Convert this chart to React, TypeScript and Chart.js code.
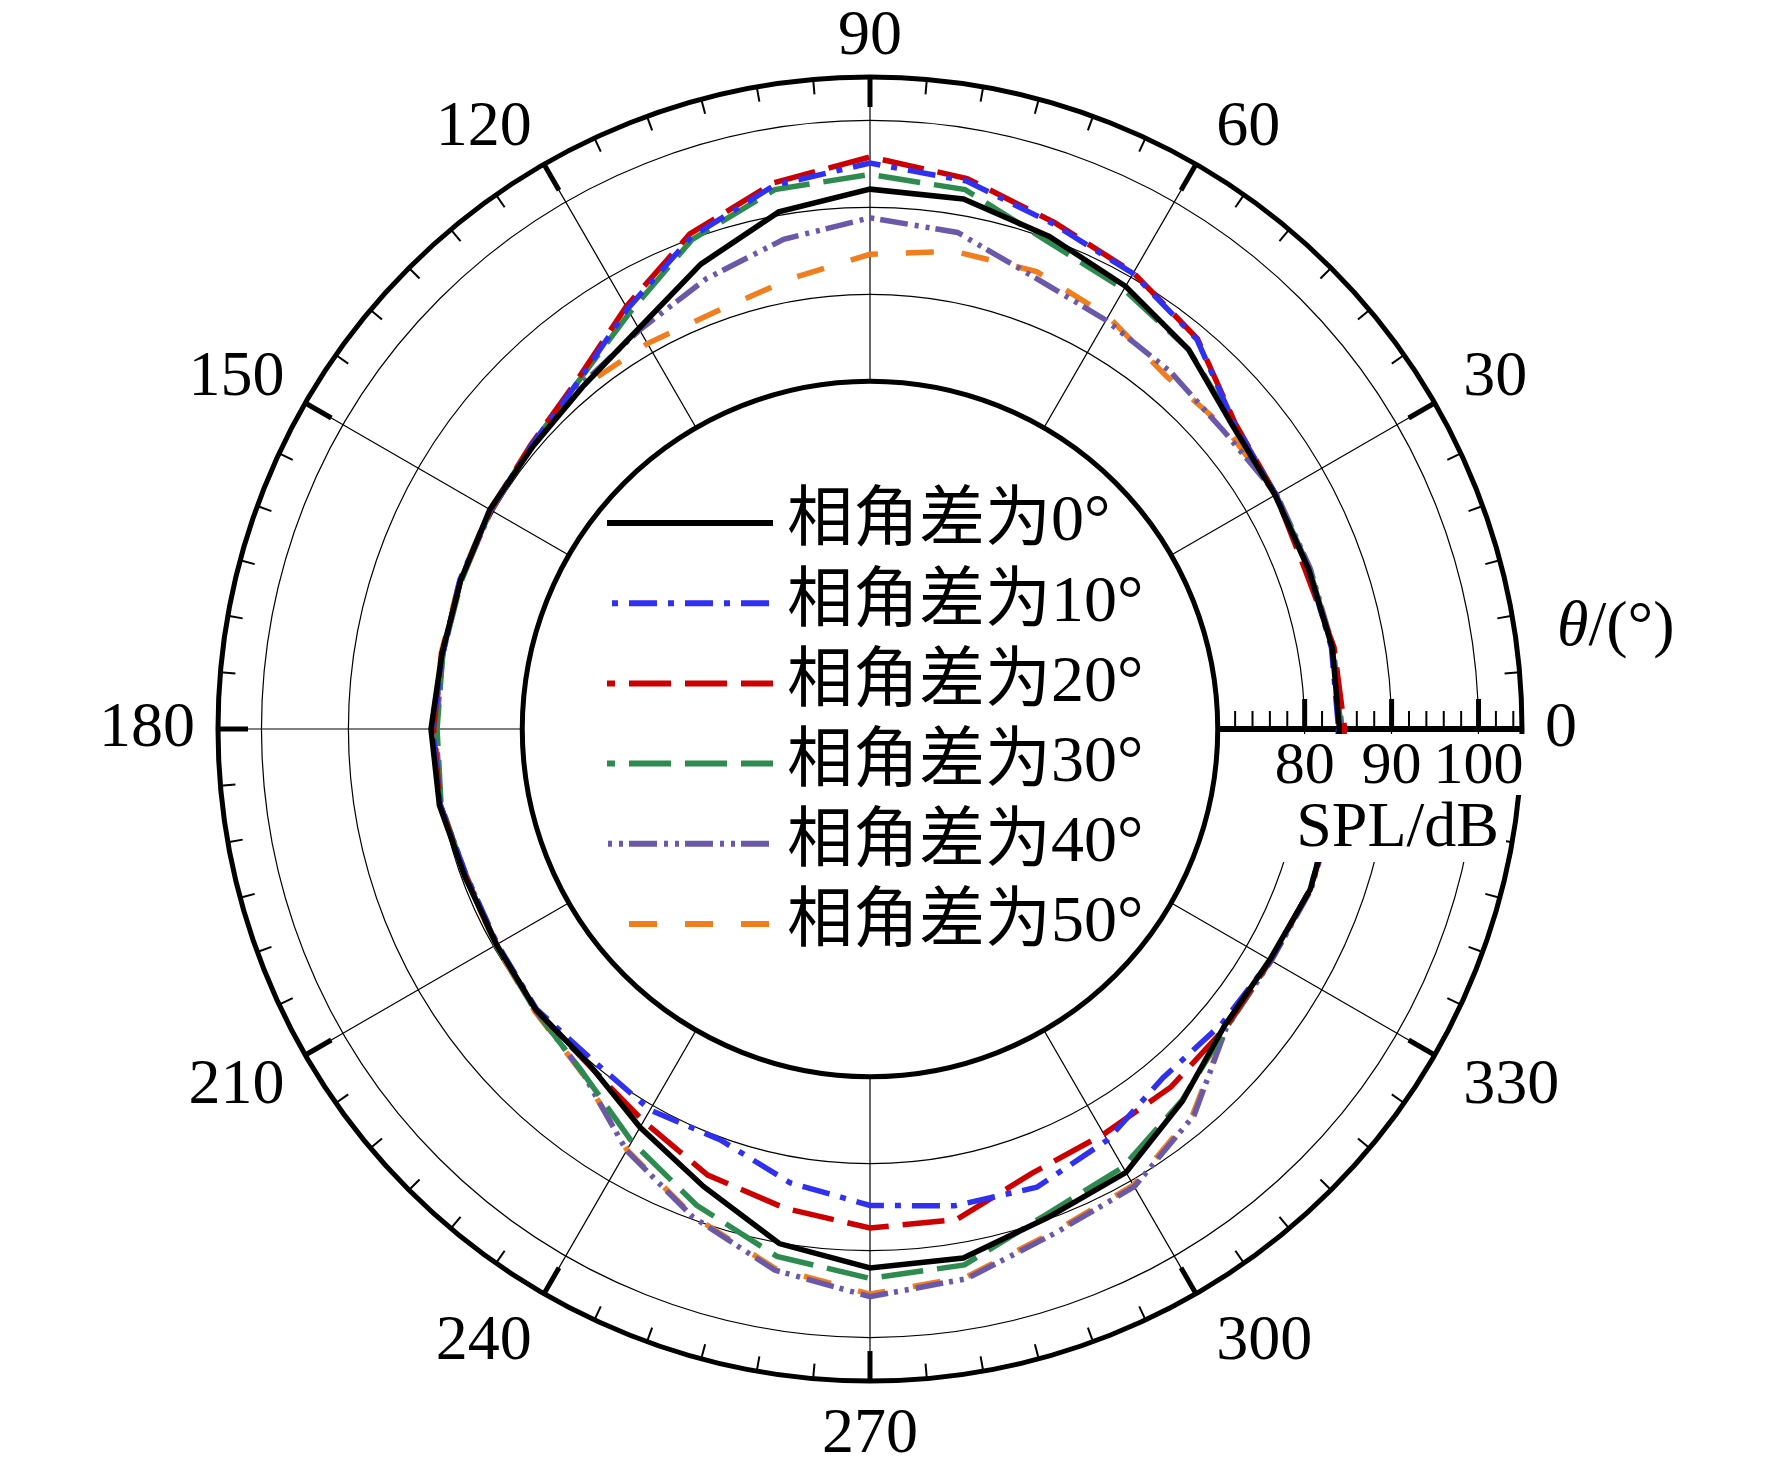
import React, { useEffect, useRef } from 'react';
import { Chart, registerables } from 'chart.js';

Chart.register(...registerables);

// ---------------- data ----------------
const ANGLES = [0, 10, 20, 30, 40, 50, 60, 70, 80, 90, 100, 110, 120, 130, 140, 150, 160, 170,
  180, 190, 200, 210, 220, 230, 240, 250, 260, 270, 280, 290, 300, 310, 320, 330, 340, 350];

const SPL_0 = [84.0, 84.0, 83.7, 83.8, 84.4, 87.0, 88.8, 90.3, 91.9, 92.1, 90.4, 86.9, 83.2, 81.4, 80.6, 80.5, 80.1, 80.0,
  80.5, 80.3, 79.6, 79.6, 80.2, 80.3, 82.9, 86.0, 90.1, 92.0, 91.8, 89.8, 88.9, 85.9, 83.2, 83.1, 83.9, 84.0];
const SPL_10 = [83.9, 83.9, 83.7, 83.9, 84.7, 88.5, 90.5, 91.8, 94.0, 95.1, 93.5, 90.2, 85.8, 82.2, 80.8, 80.4, 80.2, 79.9,
  80.3, 80.2, 79.4, 79.5, 80.1, 79.7, 80.6, 80.3, 83.0, 84.8, 85.7, 86.1, 84.6, 82.4, 82.8, 83.2, 83.9, 83.9];
const SPL_20 = [84.6, 84.2, 83.3, 83.9, 84.8, 88.6, 90.6, 92.0, 94.3, 95.8, 93.8, 90.6, 86.1, 82.4, 80.9, 80.4, 80.1, 80.0,
  80.2, 80.2, 79.5, 79.6, 80.2, 80.4, 82.1, 84.6, 86.0, 87.4, 87.3, 84.4, 83.8, 83.8, 83.4, 83.2, 83.9, 84.2];
const SPL_30 = [84.2, 84.0, 83.8, 83.9, 84.6, 87.0, 88.4, 89.7, 93.0, 93.8, 93.0, 89.9, 85.3, 82.2, 80.8, 80.4, 80.0, 79.9,
  79.8, 80.1, 79.5, 79.7, 80.3, 81.5, 84.8, 88.3, 91.6, 93.2, 92.6, 89.4, 88.2, 85.8, 83.5, 83.2, 83.9, 84.0];
const SPL_40 = [84.3, 84.1, 83.9, 84.0, 83.2, 83.7, 84.3, 85.3, 88.0, 88.8, 87.2, 85.1, 83.0, 81.7, 80.8, 80.3, 80.1, 79.9,
  79.9, 80.2, 79.4, 79.6, 80.3, 81.5, 86.0, 89.7, 93.2, 95.3, 94.2, 91.8, 90.8, 88.0, 83.5, 83.3, 84.0, 84.1];
const SPL_50 = [84.0, 84.0, 83.8, 83.9, 83.6, 83.0, 84.8, 86.0, 85.8, 84.6, 82.6, 81.2, 81.2, 81.4, 80.8, 80.5, 80.2, 80.1,
  80.0, 80.3, 79.6, 79.7, 80.4, 81.6, 85.9, 89.6, 93.0, 95.0, 94.0, 91.6, 90.6, 87.8, 83.5, 83.3, 83.9, 84.0];

const SERIES_LABELS = ['相角差为0°', '相角差为10°', '相角差为20°', '相角差为30°', '相角差为40°', '相角差为50°'];
const SERIES_DATA = [SPL_0, SPL_10, SPL_20, SPL_30, SPL_40, SPL_50];

const R_MIN = 30;
const R_MAX = 105;
const R_INNER = 70;
const GRID_VALUES = [80, 90, 100];
const AXIS_MAJOR = [80, 90, 100];
const AXIS_MINOR = [72, 74, 76, 78, 82, 84, 86, 88, 92, 94, 96, 98, 102, 104];
const ANGLE_LABELS = [0, 30, 60, 90, 120, 150, 180, 210, 240, 270, 300, 330];
const STEP = 10;

// ---------------- styles ----------------
const W = 1772;
const H = 1473;
const COLORS = ['#000000', '#3030f0', '#cc0000', '#2e8b4f', '#6a58a8', '#f07d1e'];
const DASHES: number[][] = [[], [28, 11, 6, 11], [42, 14], [42, 14], [28, 7, 4, 7, 4, 6], [28, 28]];
const SERIF = '"Liberation Serif", "Times New Roman", "Noto Sans CJK SC", serif';

const decorPlugin = {
  id: 'decor',
  beforeDatasetsDraw(chart: any) {
    const s = chart.scales.r;
    const ctx = chart.ctx;
    const cx = s.xCenter;
    const cy = s.yCenter;
    const rIn = s.getDistanceFromCenterForValue(R_INNER);
    const rOut = s.getDistanceFromCenterForValue(R_MAX);
    ctx.save();
    // hole
    ctx.beginPath();
    ctx.arc(cx, cy, rIn, 0, Math.PI * 2);
    ctx.fillStyle = '#ffffff';
    ctx.fill();
    ctx.lineWidth = 5;
    ctx.strokeStyle = '#000';
    ctx.stroke();
    // angular ticks every 5 degrees
    for (let a = 5; a < 360; a += 5) {
      const major = a % 30 === 0;
      const idx = ((360 - a) % 360) / STEP;
      const p1 = s.getPointPosition(idx, rOut);
      const p2 = s.getPointPosition(idx, rOut - (major ? 30 : 15));
      ctx.beginPath();
      ctx.moveTo(p1.x, p1.y);
      ctx.lineTo(p2.x, p2.y);
      ctx.lineWidth = major ? 5 : 2;
      ctx.stroke();
    }
    // radial axis at 0 deg
    const a0 = s.getPointPosition(0, rIn);
    const a1 = s.getPointPosition(0, rOut);
    ctx.beginPath();
    ctx.moveTo(a0.x, a0.y);
    ctx.lineTo(a1.x, a1.y);
    ctx.lineWidth = 6;
    ctx.stroke();
    for (const v of AXIS_MINOR) {
      const x = cx + s.getDistanceFromCenterForValue(v);
      ctx.beginPath();
      ctx.moveTo(x, cy);
      ctx.lineTo(x, cy - 18);
      ctx.lineWidth = 2;
      ctx.stroke();
    }
    for (const v of AXIS_MAJOR) {
      const x = cx + s.getDistanceFromCenterForValue(v);
      ctx.beginPath();
      ctx.moveTo(x, cy);
      ctx.lineTo(x, cy - 30);
      ctx.lineWidth = 5;
      ctx.stroke();
    }
    ctx.restore();
  },
  afterDatasetsDraw(chart: any) {
    const s = chart.scales.r;
    const ctx = chart.ctx;
    const cx = s.xCenter;
    const cy = s.yCenter;
    const rIn = s.getDistanceFromCenterForValue(R_INNER);
    const rOut = s.getDistanceFromCenterForValue(R_MAX);
    ctx.save();
    // white boxes behind axis labels
    ctx.fillStyle = '#ffffff';
    ctx.fillRect(cx + rIn + 20, cy + 5, rOut - rIn - 10, 61);
    ctx.fillRect(cx + rIn + 20, cy + 66, rOut - rIn - 36, 67);
    ctx.fillStyle = '#000';
    // axis numbers
    ctx.font = `60px ${SERIF}`;
    ctx.textAlign = 'center';
    ctx.textBaseline = 'middle';
    for (const v of AXIS_MAJOR) {
      const x = cx + s.getDistanceFromCenterForValue(v);
      ctx.fillText(String(v), x, cy + 38);
    }
    // SPL/dB
    ctx.font = `64px ${SERIF}`;
    ctx.textBaseline = 'alphabetic';
    ctx.fillText('SPL/dB', cx + s.getDistanceFromCenterForValue(90) + 6, cy + 117);
    // theta label
    ctx.textAlign = 'left';
    const tx = cx + rOut + 35;
    const ty = cy - 84;
    ctx.font = `italic 64px ${SERIF}`;
    ctx.fillText('θ', tx, ty);
    const tw = ctx.measureText('θ').width;
    ctx.font = `64px ${SERIF}`;
    ctx.fillText('/(°)', tx + tw, ty);
    // angle labels
    ctx.font = `64px ${SERIF}`;
    ctx.textAlign = 'center';
    ctx.textBaseline = 'middle';
    const gap = 23;
    const h = 44;
    for (const a of ANGLE_LABELS) {
      const idx = ((360 - a) % 360) / STEP;
      const p = s.getPointPosition(idx, rOut + gap);
      const ux = (p.x - cx) / (rOut + gap);
      const uy = (p.y - cy) / (rOut + gap);
      const txt = String(a);
      const w = ctx.measureText(txt).width;
      let x = p.x;
      let y = p.y;
      const s2 = Math.abs(2 * ux * uy);
      if (Math.abs(ux) > 0.01) x += Math.sign(ux) * (w / 2) + (ux > 0 ? 10 : -1) * s2;
      if (Math.abs(uy) > 0.01) y += Math.sign(uy) * (h / 2) * Math.sqrt(Math.abs(uy)) + (uy > 0 ? 9 * uy : -5 * uy);
      ctx.fillText(txt, x, y);
    }
    // legend
    const lx = cx - 263;
    const llen = 166;
    const ly0 = cy - 206;
    const rowH = 80.2;
    chart.data.datasets.forEach((ds: any, i: number) => {
      const y = ly0 + i * rowH;
      ctx.beginPath();
      ctx.setLineDash(ds.borderDash || []);
      ctx.lineDashOffset = 34;
      ctx.strokeStyle = ds.borderColor;
      ctx.lineWidth = 6;
      ctx.moveTo(lx, y);
      ctx.lineTo(lx + llen, y);
      ctx.stroke();
      ctx.setLineDash([]);
      ctx.fillStyle = '#000';
      ctx.font = `66px ${SERIF}`;
      ctx.textAlign = 'left';
      ctx.textBaseline = 'middle';
      ctx.fillText(ds.label, lx + llen + 14, y);
    });
    ctx.restore();
  },
};

export default function App() {
  const ref = useRef<HTMLCanvasElement>(null);
  useEffect(() => {
    document.body.style.margin = '0';
    const canvas = ref.current;
    if (!canvas) return;
    const n = ANGLES.length;
    const order = ANGLES.map((_, k) => (n - k) % n);
    const labels = order.map((i) => String(ANGLES[i]));
    const datasets = SERIES_DATA.map((arr, si) => ({
      label: SERIES_LABELS[si],
      data: order.map((i) => arr[i]),
      borderColor: COLORS[si],
      backgroundColor: 'transparent',
      borderDash: DASHES[si],
      borderWidth: 5.5,
      pointRadius: 0,
      pointHoverRadius: 0,
      fill: false,
      tension: 0,
    }));
    const chart = new Chart(canvas, {
      type: 'radar',
      data: { labels, datasets },
      options: {
        animation: false,
        responsive: false,
        devicePixelRatio: 1,
        layout: { padding: { left: 218, top: 77, right: 250, bottom: 92 } },
        plugins: { legend: { display: false }, tooltip: { enabled: false } },
        scales: {
          r: {
            min: R_MIN,
            max: R_MAX,
            startAngle: 90,
            afterBuildTicks: (scale: any) => {
              scale.ticks = [R_MIN, ...GRID_VALUES, R_MAX].map((v) => ({ value: v }));
            },
            ticks: { display: false },
            pointLabels: { display: false },
            grid: {
              circular: true,
              color: '#000',
              lineWidth: (c: any) => (c.tick && c.tick.value === R_MAX ? 5 : 1.2),
            },
            angleLines: {
              display: true,
              color: '#000',
              lineWidth: (c: any) => {
                const a = Number(labels[c.index]);
                return a % 30 === 0 && a !== 0 ? 1.2 : 0;
              },
            },
          },
        },
      } as any,
      plugins: [decorPlugin],
    });
    return () => chart.destroy();
  }, []);
  return (
    <div style={{ position: 'absolute', left: 0, top: 0, width: W, height: H, background: '#fff' }}>
      <canvas ref={ref} width={W} height={H} style={{ width: W, height: H, display: 'block' }} />
    </div>
  );
}
